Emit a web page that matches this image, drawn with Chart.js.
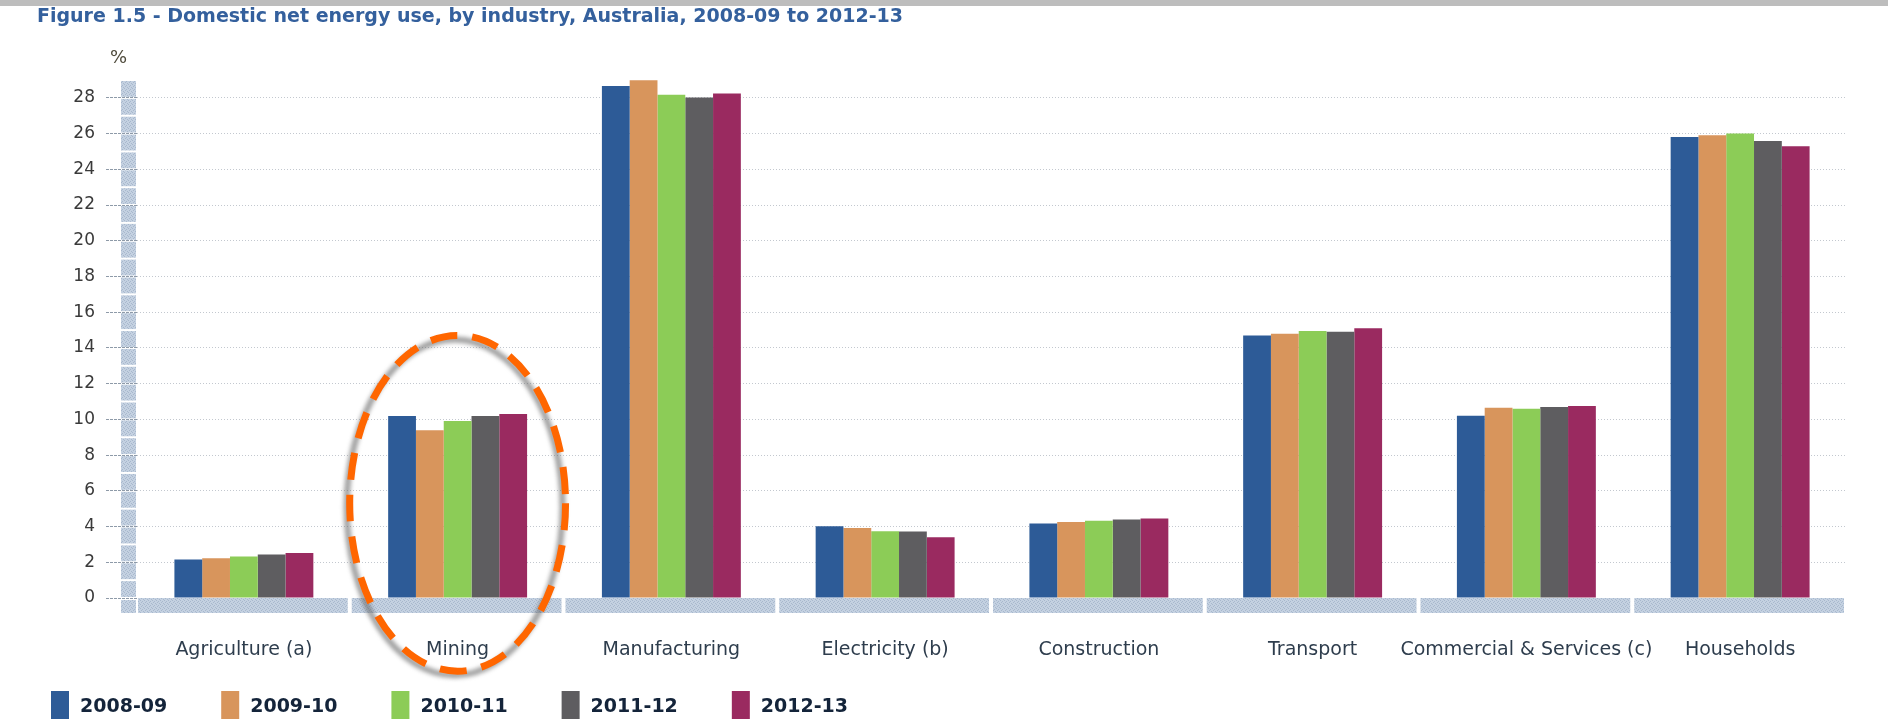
<!DOCTYPE html>
<html>
<head>
<meta charset="utf-8">
<script src="https://cdn.jsdelivr.net/npm/chart.js@4.4.1/dist/chart.umd.min.js"></script>
<style>
html,body{margin:0;padding:0;background:#fff;}
#wrap{position:relative;width:1888px;height:728px;}
canvas{display:block;}
</style>
</head>
<body>
<div id="wrap"><canvas id="c" width="1888" height="728"></canvas></div>
<script>
const titleText = 'Figure 1.5 - Domestic net energy use, by industry, Australia, 2008-09 to 2012-13';
const unitLabel = '%';
const categories = ['Agriculture (a)', 'Mining', 'Manufacturing', 'Electricity (b)', 'Construction', 'Transport', 'Commercial & Services (c)', 'Households'];
const seriesLabels = ['2008-09', '2009-10', '2010-11', '2011-12', '2012-13'];
const values0809 = [2.15, 10.19, 28.67, 4.01, 4.17, 14.70, 10.20, 25.81];
const values0910 = [2.22, 9.39, 28.99, 3.92, 4.26, 14.80, 10.65, 25.91];
const values1011 = [2.33, 9.91, 28.17, 3.73, 4.33, 14.95, 10.60, 26.00];
const values1112 = [2.43, 10.19, 28.02, 3.72, 4.39, 14.90, 10.70, 25.59];
const values1213 = [2.52, 10.30, 28.24, 3.40, 4.45, 15.10, 10.75, 25.29];
const yTicks = [0, 2, 4, 6, 8, 10, 12, 14, 16, 18, 20, 22, 24, 26, 28];
const yMax = 29;

const seriesValues = [values0809, values0910, values1011, values1112, values1213];
const seriesColors = ['#2d5b97', '#d8955c', '#8ccc57', '#5e5d60', '#9a2a60'];

function bandPattern(ctx) {
  const p = document.createElement('canvas');
  p.width = 4; p.height = 4;
  const g = p.getContext('2d');
  g.fillStyle = '#c4d1e1';
  g.fillRect(0, 0, 4, 4);
  g.fillStyle = '#a8b8cd';
  g.fillRect(0, 0, 1, 1); g.fillRect(2, 1, 1, 1); g.fillRect(1, 2, 1, 1); g.fillRect(3, 3, 1, 1);
  return ctx.createPattern(p, 'repeat');
}

const decor = {
  id: 'decor',
  beforeDraw(chart) {
    const ctx = chart.ctx;
    ctx.save();
    ctx.fillStyle = '#ffffff';
    ctx.fillRect(0, 0, chart.width, chart.height);
    ctx.fillStyle = '#bdbdbd';
    ctx.fillRect(0, 0, chart.width, 6);
    ctx.restore();
  },
  beforeDatasetsDraw(chart) {
    const { ctx, chartArea, scales: { x, y } } = chart;
    ctx.save();
    ctx.fillStyle = bandPattern(ctx);
    const bx = chartArea.left - 16, bw = 15;
    for (let v = 0; v < yMax; v++) {
      const top = y.getPixelForValue(v + 1);
      const bot = y.getPixelForValue(v);
      ctx.fillRect(bx, top + 1, bw, bot - top - 2);
    }
    const y0 = y.getPixelForValue(0);
    ctx.fillRect(bx, y0 + 2, bw, 13);
    const half = (x.getPixelForValue(1) - x.getPixelForValue(0)) / 2;
    for (let i = 0; i < categories.length; i++) {
      const c = x.getPixelForValue(i);
      ctx.fillRect(c - half + 1, y0, 2 * half - 4, 15);
    }
    ctx.restore();
  },
  afterDraw(chart) {
    const { ctx, scales: { x, y } } = chart;
    ctx.save();
    // unit label
    ctx.font = '18px "DejaVu Sans"';
    ctx.fillStyle = '#4f4b3c';
    ctx.textBaseline = 'alphabetic';
    ctx.textAlign = 'left';
    ctx.fillText(unitLabel, 110, 63);
    // legend
    ctx.font = 'bold 19px "DejaVu Sans"';
    let lx = 51;
    const ly = chart.height - 37;
    chart.data.datasets.forEach(ds => {
      ctx.fillStyle = ds.backgroundColor;
      ctx.fillRect(lx, ly, 18, 28);
      ctx.fillStyle = '#14243a';
      ctx.fillText(ds.label, lx + 29, ly + 21);
      lx += 29 + ctx.measureText(ds.label).width + 54;
    });
    // dashed highlight ellipse around Mining
    const cx = x.getPixelForValue(1);
    const cy = y.getPixelForValue(5.3);
    const rx = (x.getPixelForValue(1) - x.getPixelForValue(0)) * 0.505;
    const ry = Math.abs(y.getPixelForValue(0) - y.getPixelForValue(9.4));
    ctx.beginPath();
    ctx.ellipse(cx - 3, cy + 4, rx, ry, 0, 0, Math.PI * 2);
    ctx.strokeStyle = 'rgba(95,95,95,0.6)';
    ctx.lineWidth = 6;
    ctx.filter = 'blur(2px)';
    ctx.stroke();
    ctx.filter = 'none';
    ctx.beginPath();
    ctx.ellipse(cx, cy, rx, ry, 0, 0, Math.PI * 2);
    ctx.strokeStyle = '#ff6600';
    ctx.lineWidth = 7;
    ctx.setLineDash([27, 15]);
    ctx.stroke();
    ctx.restore();
  }
};

const datasets = seriesLabels.map((label, i) => ({
  label: label,
  data: seriesValues[i],
  backgroundColor: seriesColors[i],
  borderWidth: 0,
  categoryPercentage: 0.65,
  barPercentage: 1.0
}));

new Chart(document.getElementById('c'), {
  type: 'bar',
  data: { labels: categories, datasets: datasets },
  plugins: [decor],
  options: {
    responsive: false,
    animation: false,
    devicePixelRatio: 1,
    layout: { padding: { left: 37, right: 41, top: 0, bottom: 0 } },
    plugins: {
      legend: { display: false },
      tooltip: { enabled: false },
      title: {
        display: true,
        text: titleText,
        align: 'start',
        color: '#34609d',
        font: { family: 'DejaVu Sans', size: 19, weight: 'bold', lineHeight: 1.2 },
        padding: { top: 6, bottom: 51.2 }
      }
    },
    scales: {
      x: {
        grid: { display: false, drawTicks: false },
        border: { display: false },
        ticks: {
          padding: 41,
          color: '#2e3d4d',
          font: { family: 'DejaVu Sans', size: 19 },
          maxRotation: 0,
          autoSkip: false
        },
        afterFit(scale) { scale.height = 130; }
      },
      y: {
        min: 0,
        max: yMax,
        border: { display: false, dash: [1, 2] },
        grid: {
          color: (c) => (c.tick && c.tick.value === 0) ? 'rgba(0,0,0,0)' : '#c3c8cf',
          lineWidth: 1,
          tickLength: 31,
          tickColor: '#8e9aa8',
          tickBorderDash: [3, 1]
        },
        ticks: {
          padding: 11,
          color: '#3a3a3a',
          font: { family: 'DejaVu Sans', size: 17 }
        },
        afterBuildTicks(scale) { scale.ticks = yTicks.map(v => ({ value: v })); },
        afterFit(scale) { scale.width = 100; }
      }
    }
  }
});
</script>
</body>
</html>
